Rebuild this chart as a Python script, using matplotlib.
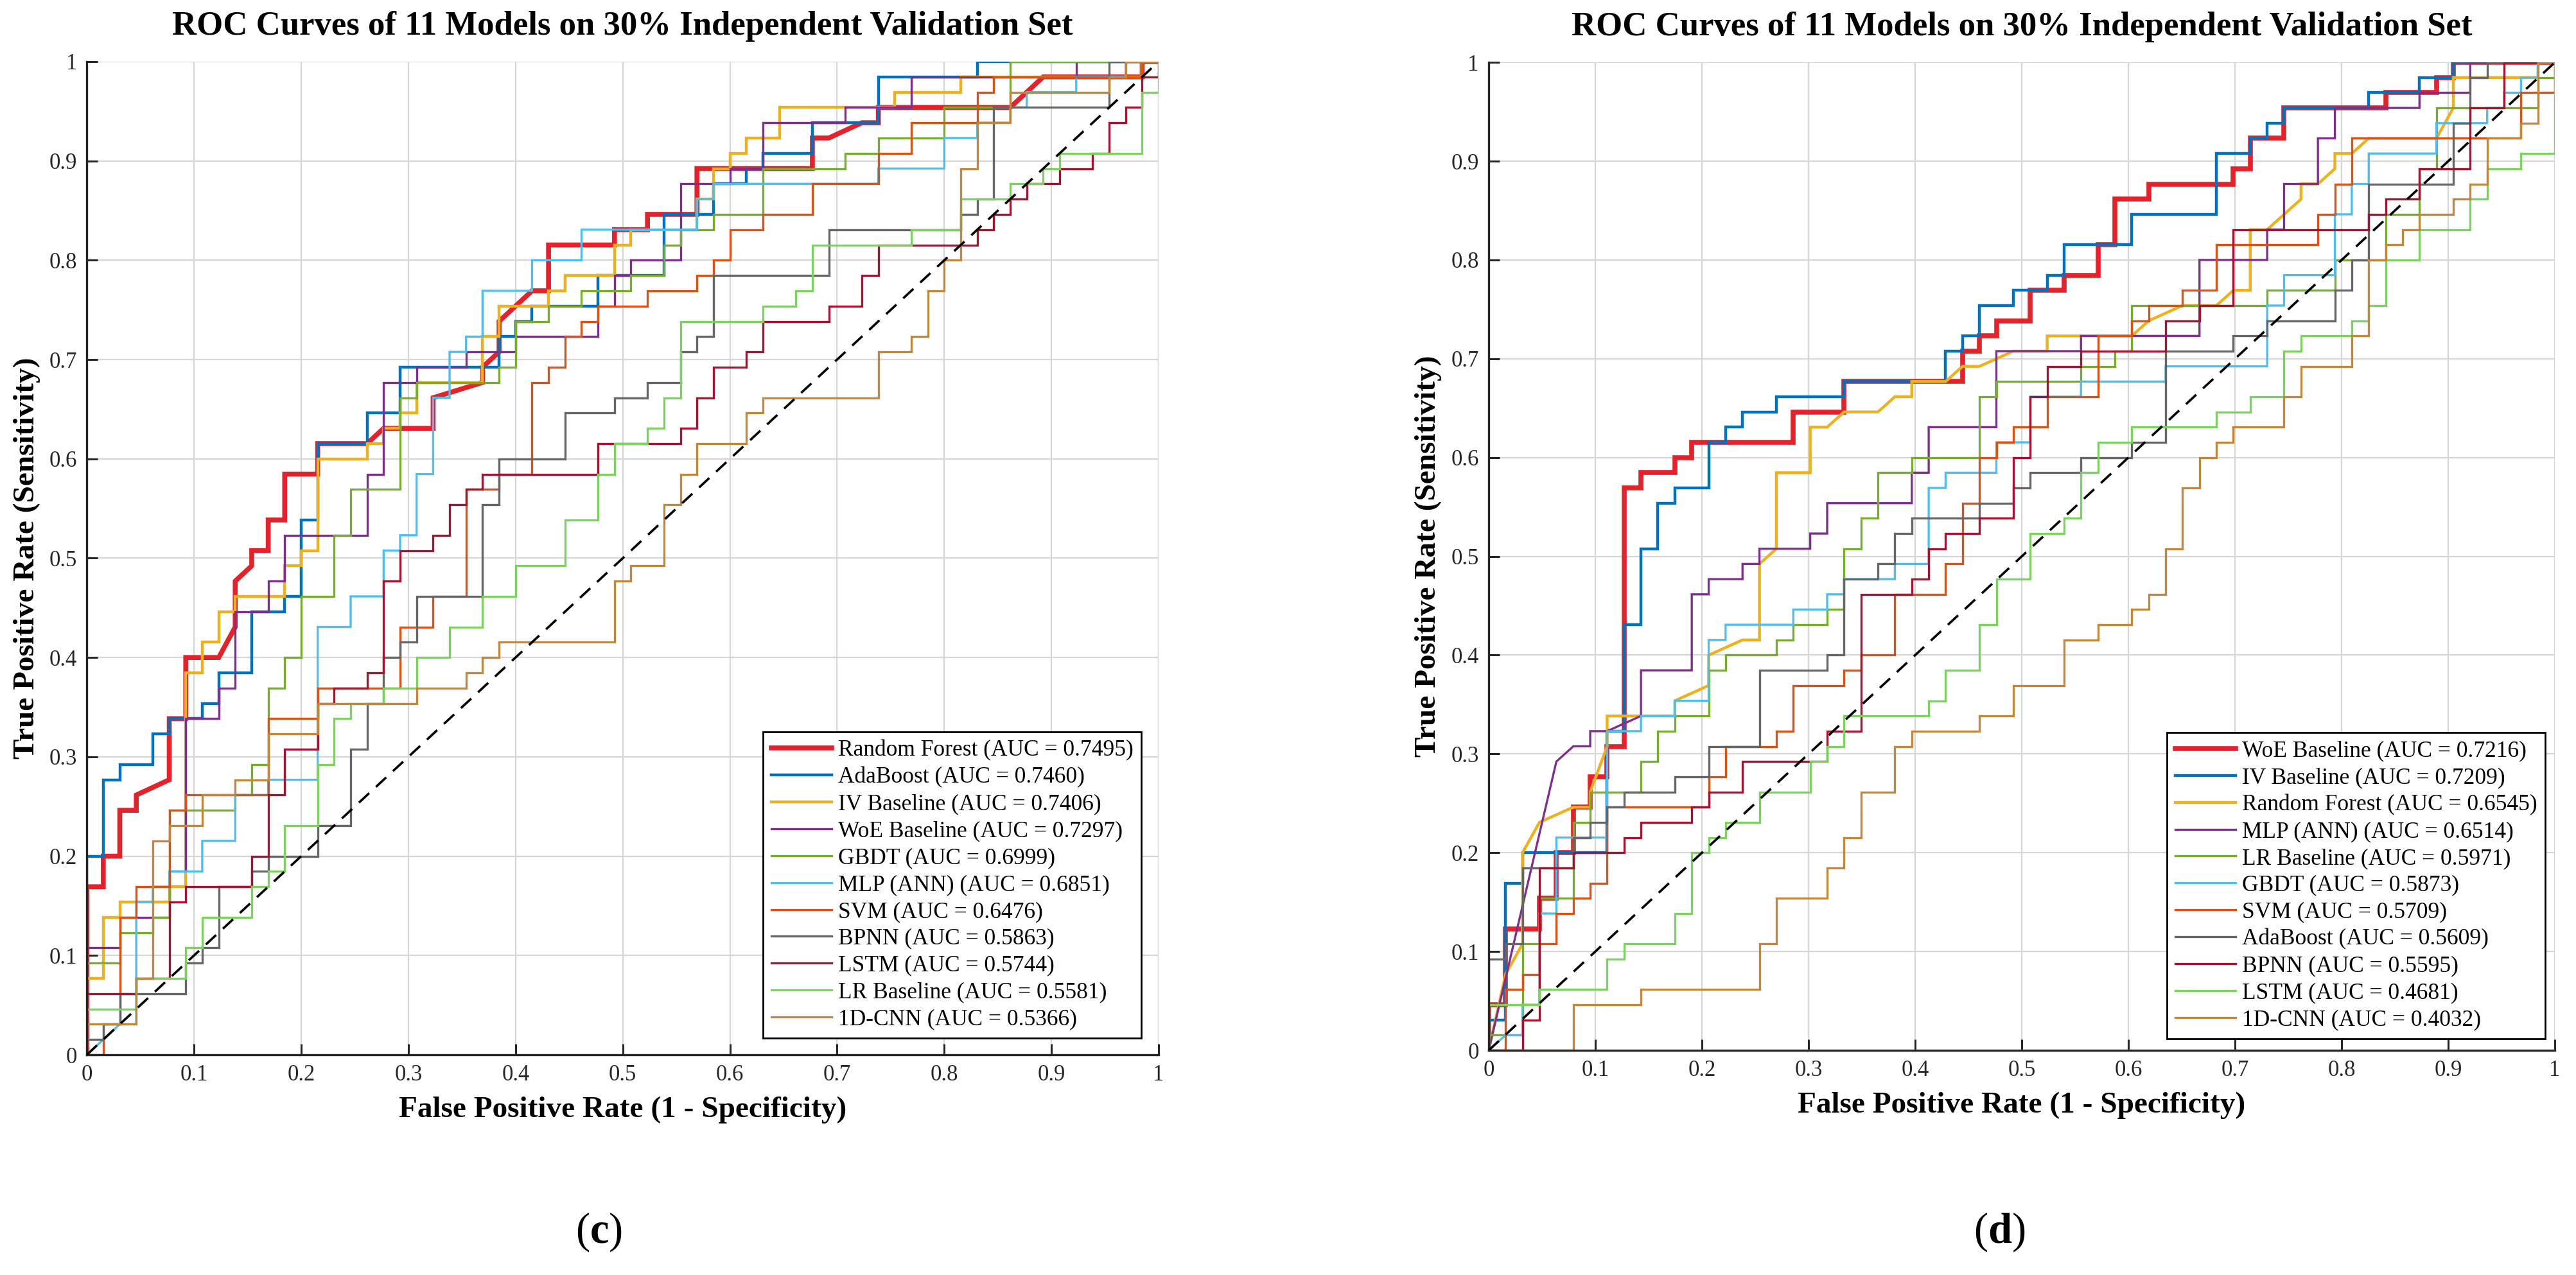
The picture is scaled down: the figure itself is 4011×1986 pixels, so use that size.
import matplotlib
matplotlib.use('Agg')
import matplotlib.pyplot as plt
from matplotlib.font_manager import FontProperties

# counts of positives / negatives behind each ROC (fpr = fp / n_neg, tpr = tp / n_pos)
N_POS = 65
N_NEG_C = 65
N_NEG_D = 63

# ---- panel (c): vertices as (false positives, true positives) ----
C_RF = [(0,0),(0,11),(1,11),(1,13),(2,13),(2,16),(3,16),(3,17),(5,18),(5,22),(6,22),(6,26),(8,26),(9,28),(9,31),(10,32),(10,33),(11,33),(11,35),(12,35),(12,38),(14,38),(14,40),(17,40),(18,41),(21,41),(21,43),(24,44),(24,45),(25,46),(25,48),(27,50),(28,50),(28,53),(32,53),(32,54),(34,54),(34,55),(37,55),(37,58),(44,58),(44,60),(45,60),(47,61),(48,61),(48,62),(56,62),(58,64),(64,64),(64,65),(65,65)]
C_ADA = [(0,0),(0,13),(1,13),(1,18),(2,18),(2,19),(4,19),(4,21),(5,21),(5,22),(7,22),(7,23),(8,23),(8,25),(10,25),(10,29),(12,29),(12,30),(13,30),(13,35),(14,35),(14,40),(17,40),(17,42),(19,42),(19,45),(25,45),(25,47),(26,47),(26,48),(27,48),(27,49),(31,49),(31,51),(35,51),(35,55),(38,55),(38,57),(40,57),(40,58),(41,58),(41,59),(44,59),(44,61),(48,61),(48,64),(54,64),(54,65),(65,65)]
C_IV = [(0,0),(0,5),(1,5),(1,9),(2,9),(2,10),(5,10),(5,11),(6,11),(6,25),(7,25),(7,27),(8,27),(8,29),(9,29),(9,30),(12,30),(12,32),(13,32),(13,33),(14,33),(14,39),(17,39),(17,40),(18,40),(18,41),(19,41),(19,42),(20,42),(20,44),(24,44),(24,47),(25,47),(25,49),(28,49),(28,50),(29,50),(29,51),(32,51),(32,53),(33,53),(33,54),(37,54),(37,56),(38,56),(38,58),(39,58),(39,59),(40,59),(40,60),(42,60),(42,62),(49,62),(49,63),(53,63),(53,64),(64,64),(64,65),(65,65)]
C_WOE = [(0,0),(0,7),(2,7),(2,9),(5,9),(5,12),(6,12),(6,22),(8,22),(8,24),(9,24),(9,29),(11,29),(11,31),(12,31),(12,34),(17,34),(17,38),(18,38),(18,44),(20,44),(20,45),(23,45),(23,46),(26,46),(26,47),(31,47),(31,49),(32,49),(32,51),(33,51),(33,52),(36,52),(36,57),(39,57),(39,58),(41,58),(41,61),(46,61),(46,62),(50,62),(50,64),(60,64),(60,65),(65,65)]
C_GBDT = [(0,0),(0,6),(2,6),(2,8),(4,8),(4,9),(5,9),(5,16),(9,16),(9,17),(10,17),(10,19),(11,19),(11,24),(12,24),(12,26),(13,26),(13,30),(15,30),(15,34),(16,34),(16,37),(19,37),(19,43),(20,43),(20,44),(25,44),(25,45),(26,45),(26,48),(28,48),(28,49),(30,49),(30,50),(33,50),(33,51),(35,51),(35,53),(36,53),(36,54),(38,54),(38,55),(41,55),(41,58),(46,58),(46,59),(48,59),(48,60),(52,60),(52,62),(56,62),(56,65),(65,65)]
C_MLP = [(0,0),(2,2),(3,2),(3,10),(4,10),(4,11),(5,11),(5,12),(7,12),(7,14),(9,14),(9,17),(11,17),(11,18),(14,18),(14,28),(16,28),(16,30),(18,30),(18,33),(19,33),(19,34),(20,34),(20,38),(21,38),(21,43),(22,43),(22,46),(23,46),(23,47),(24,47),(24,50),(27,50),(27,52),(30,52),(30,54),(37,54),(37,56),(38,56),(38,57),(48,57),(48,58),(52,58),(52,60),(54,60),(54,61),(56,61),(56,62),(57,62),(57,63),(60,63),(60,64),(63,64),(63,65),(65,65)]
C_SVM = [(0,0),(1,0),(1,2),(2,2),(2,9),(3,9),(3,11),(5,11),(5,16),(6,16),(6,17),(11,17),(11,22),(14,22),(14,24),(19,24),(19,28),(21,28),(21,30),(23,30),(23,37),(25,37),(25,38),(27,38),(27,44),(28,44),(28,45),(29,45),(29,47),(30,47),(30,48),(31,48),(31,49),(34,49),(34,50),(37,50),(37,51),(38,51),(38,52),(39,52),(39,54),(41,54),(41,55),(44,55),(44,57),(48,57),(48,59),(50,59),(50,61),(54,61),(54,63),(55,63),(55,64),(64,64),(64,65),(65,65)]
C_BPNN = [(0,0),(0,1),(1,1),(1,2),(2,2),(2,4),(6,4),(6,6),(7,6),(7,7),(8,7),(8,11),(10,11),(10,12),(11,12),(11,13),(14,13),(14,15),(16,15),(16,20),(17,20),(17,23),(18,23),(18,26),(19,26),(19,27),(20,27),(20,30),(24,30),(24,36),(25,36),(25,39),(29,39),(29,42),(32,42),(32,43),(34,43),(34,44),(36,44),(36,46),(37,46),(37,47),(38,47),(38,51),(45,51),(45,54),(53,54),(53,55),(54,55),(54,56),(55,56),(55,62),(62,62),(62,65),(65,65)]
C_LSTM = [(0,0),(0,4),(3,4),(3,5),(5,5),(5,10),(6,10),(6,11),(10,11),(10,13),(11,13),(11,17),(12,17),(12,20),(14,20),(14,23),(15,23),(15,24),(17,24),(17,25),(18,25),(18,31),(19,31),(19,33),(21,33),(21,34),(22,34),(22,36),(23,36),(23,37),(24,37),(24,38),(31,38),(31,40),(36,40),(36,41),(37,41),(37,43),(38,43),(38,45),(40,45),(40,46),(41,46),(41,48),(45,48),(45,49),(47,49),(47,51),(48,51),(48,53),(54,53),(54,54),(55,54),(55,55),(56,55),(56,56),(57,56),(57,57),(59,57),(59,58),(61,58),(61,59),(62,59),(62,61),(63,61),(63,62),(64,62),(64,64),(65,64),(65,65)]
C_LR = [(0,0),(0,3),(3,3),(3,5),(6,5),(6,7),(7,7),(7,9),(10,9),(10,11),(11,11),(11,12),(12,12),(12,15),(14,15),(14,19),(15,19),(15,22),(16,22),(16,23),(18,23),(18,24),(20,24),(20,26),(22,26),(22,28),(24,28),(24,30),(26,30),(26,32),(29,32),(29,35),(31,35),(31,38),(32,38),(32,40),(34,40),(34,41),(35,41),(35,43),(36,43),(36,48),(41,48),(41,49),(43,49),(43,50),(44,50),(44,53),(50,53),(50,54),(53,54),(53,56),(56,56),(56,57),(58,57),(58,58),(59,58),(59,59),(64,59),(64,63),(65,63),(65,65)]
C_CNN = [(0,0),(0,2),(3,2),(3,5),(4,5),(4,14),(5,14),(5,15),(7,15),(7,17),(9,17),(9,18),(11,18),(11,21),(14,21),(14,23),(20,23),(20,24),(23,24),(23,25),(24,25),(24,26),(25,26),(25,27),(32,27),(32,31),(33,31),(33,32),(35,32),(35,36),(36,36),(36,38),(37,38),(37,40),(40,40),(40,42),(41,42),(41,43),(48,43),(48,46),(50,46),(50,47),(51,47),(51,50),(52,50),(52,52),(53,52),(53,58),(54,58),(54,61),(56,61),(56,63),(62,63),(62,64),(63,64),(63,65),(65,65)]

C_CURVES = [C_RF, C_ADA, C_IV, C_WOE, C_GBDT, C_MLP, C_SVM, C_BPNN, C_LSTM, C_LR, C_CNN]
C_NAMES = ['Random Forest', 'AdaBoost', 'IV Baseline', 'WoE Baseline', 'GBDT', 'MLP (ANN)',
           'SVM', 'BPNN', 'LSTM', 'LR Baseline', '1D-CNN']
C_AUC = ['0.7495', '0.7460', '0.7406', '0.7297', '0.6999', '0.6851',
         '0.6476', '0.5863', '0.5744', '0.5581', '0.5366']

# ---- panel (d) ----
D_WOE = [(0,0),(0,3),(1,3),(1,8),(3,8),(3,10),(4,10),(4,13),(5,13),(5,16),(6,16),(6,18),(7,18),(7,20),(8,20),(8,37),(9,37),(9,38),(11,38),(11,39),(12,39),(12,40),(18,40),(18,42),(21,42),(21,44),(28,44),(28,46),(29,46),(29,47),(30,47),(30,48),(32,48),(32,50),(34,50),(34,51),(36,51),(36,53),(37,53),(37,56),(39,56),(39,57),(44,57),(44,58),(45,58),(45,60),(47,60),(47,62),(53,62),(53,63),(56,63),(56,64),(57,64),(57,65),(63,65)]
D_IV = [(0,0),(0,2),(1,2),(1,11),(2,11),(2,13),(7,13),(7,21),(8,21),(8,28),(9,28),(9,33),(10,33),(10,36),(11,36),(11,37),(13,37),(13,40),(14,40),(14,41),(15,41),(15,42),(17,42),(17,43),(21,43),(21,44),(27,44),(27,46),(28,46),(28,47),(29,47),(29,49),(31,49),(31,50),(33,50),(33,51),(34,51),(34,53),(38,53),(38,55),(43,55),(43,59),(45,59),(45,60),(46,60),(46,61),(47,61),(47,62),(52,62),(52,63),(55,63),(55,64),(57,64),(57,65),(63,65)]
D_RF = [(0,0),(1,5),(2,7),(2,13),(3,15),(5,16),(6,16),(6,17),(7,20),(7,22),(11,22),(11,23),(13,24),(13,26),(15,27),(16,27),(16,32),(17,33),(17,38),(19,38),(19,41),(20,41),(21,42),(23,42),(24,43),(25,43),(25,44),(27,44),(28,45),(29,45),(31,46),(33,46),(33,47),(38,47),(39,48),(41,49),(43,49),(44,50),(45,50),(45,54),(46,54),(47,55),(48,56),(48,57),(49,57),(50,58),(50,59),(51,59),(52,60),(56,60),(57,62),(57,64),(62,64),(62,65),(63,65)]
D_MLP = [(0,0),(4,19),(5,20),(6,20),(6,21),(7,21),(9,22),(9,25),(12,25),(12,30),(13,30),(13,31),(15,31),(15,32),(16,32),(16,33),(19,33),(19,34),(20,34),(20,36),(25,36),(25,38),(26,38),(26,41),(30,41),(30,46),(35,46),(35,47),(42,47),(42,52),(46,52),(46,54),(47,54),(47,57),(49,57),(49,60),(50,60),(50,62),(55,62),(55,63),(58,63),(58,65),(63,65)]
D_LR = [(0,0),(0,1),(2,1),(2,7),(3,7),(3,10),(5,10),(5,15),(6,15),(6,17),(9,17),(9,19),(10,19),(10,21),(11,21),(11,22),(13,22),(13,25),(14,25),(14,26),(17,26),(17,27),(18,27),(18,28),(20,28),(20,29),(21,29),(21,33),(22,33),(22,35),(23,35),(23,38),(25,38),(25,39),(29,39),(29,43),(30,43),(30,44),(35,44),(35,45),(37,45),(37,46),(38,46),(38,49),(46,49),(46,50),(50,50),(50,52),(53,52),(53,55),(55,55),(55,58),(56,58),(56,62),(62,62),(62,64),(63,64),(63,65)]
D_GBDT = [(0,0),(1,1),(2,1),(2,3),(3,3),(3,9),(4,9),(4,14),(7,14),(7,21),(9,21),(9,22),(11,22),(11,23),(13,23),(13,27),(14,27),(14,28),(18,28),(18,29),(20,29),(20,30),(21,30),(21,31),(24,31),(24,32),(26,32),(26,37),(27,37),(27,38),(30,38),(30,40),(32,40),(32,43),(35,43),(35,44),(40,44),(40,45),(46,45),(46,49),(47,49),(47,51),(50,51),(50,55),(51,55),(51,57),(52,57),(52,59),(56,59),(56,61),(59,61),(59,62),(60,62),(60,63),(61,63),(61,64),(62,64),(62,65),(63,65)]
D_SVM = [(0,0),(1,0),(1,4),(2,4),(2,5),(3,5),(3,7),(4,7),(4,9),(5,9),(5,10),(6,10),(6,11),(7,11),(7,16),(13,16),(13,18),(14,18),(14,20),(17,20),(17,21),(18,21),(18,24),(21,24),(21,25),(22,25),(22,26),(24,26),(24,30),(27,30),(27,32),(28,32),(28,36),(29,36),(29,39),(30,39),(30,40),(31,40),(31,41),(33,41),(33,43),(36,43),(36,47),(38,47),(38,48),(39,48),(39,49),(41,49),(41,50),(43,50),(43,53),(49,53),(49,55),(50,55),(50,57),(51,57),(51,60),(61,60),(61,63),(63,63),(63,65)]
D_ADA = [(0,0),(0,6),(1,6),(1,7),(2,7),(2,12),(5,12),(5,14),(6,14),(6,15),(7,15),(7,16),(8,16),(8,17),(11,17),(11,18),(13,18),(13,20),(16,20),(16,25),(20,25),(20,26),(21,26),(21,31),(23,31),(23,32),(24,32),(24,34),(25,34),(25,35),(29,35),(29,36),(31,36),(31,37),(32,37),(32,38),(35,38),(35,39),(38,39),(38,40),(40,40),(40,46),(44,46),(44,47),(46,47),(46,48),(50,48),(50,50),(51,50),(51,52),(52,52),(52,57),(57,57),(57,61),(58,61),(58,64),(59,64),(59,65),(63,65)]
D_BPNN = [(0,0),(2,0),(2,2),(3,2),(3,12),(5,12),(5,13),(8,13),(8,14),(9,14),(9,15),(12,15),(12,16),(13,16),(13,17),(15,17),(15,19),(20,19),(20,21),(22,21),(22,30),(25,30),(25,31),(26,31),(26,33),(27,33),(27,34),(29,34),(29,35),(31,35),(31,39),(32,39),(32,43),(33,43),(33,45),(35,45),(35,46),(40,46),(40,48),(42,48),(42,49),(44,49),(44,54),(52,54),(52,55),(53,55),(53,56),(55,56),(55,58),(58,58),(58,62),(60,62),(60,65),(63,65)]
D_LSTM = [(0,0),(0,3),(3,3),(3,4),(7,4),(7,6),(8,6),(8,7),(11,7),(11,9),(12,9),(12,13),(13,13),(13,14),(14,14),(14,15),(16,15),(16,17),(19,17),(19,19),(20,19),(20,20),(21,20),(21,22),(26,22),(26,23),(27,23),(27,25),(29,25),(29,28),(30,28),(30,31),(32,31),(32,34),(34,34),(34,35),(35,35),(35,38),(36,38),(36,40),(38,40),(38,41),(43,41),(43,42),(45,42),(45,43),(47,43),(47,46),(48,46),(48,47),(51,47),(51,48),(52,48),(52,49),(53,49),(53,52),(55,52),(55,54),(58,54),(58,56),(59,56),(59,58),(61,58),(61,59),(63,59),(63,65)]
D_CNN = [(0,0),(5,0),(5,3),(9,3),(9,4),(16,4),(16,7),(17,7),(17,10),(20,10),(20,12),(21,12),(21,14),(22,14),(22,17),(24,17),(24,20),(25,20),(25,21),(29,21),(29,22),(31,22),(31,24),(34,24),(34,27),(36,27),(36,28),(38,28),(38,29),(39,29),(39,30),(40,30),(40,33),(41,33),(41,37),(42,37),(42,39),(43,39),(43,40),(44,40),(44,41),(47,41),(47,43),(48,43),(48,45),(51,45),(51,47),(52,47),(52,52),(53,52),(53,53),(54,53),(54,54),(55,54),(55,55),(57,55),(57,56),(58,56),(58,57),(59,57),(59,60),(61,60),(61,61),(62,61),(62,65),(63,65)]

D_CURVES = [D_WOE, D_IV, D_RF, D_MLP, D_LR, D_GBDT, D_SVM, D_ADA, D_BPNN, D_LSTM, D_CNN]
D_NAMES = ['WoE Baseline', 'IV Baseline', 'Random Forest', 'MLP (ANN)', 'LR Baseline', 'GBDT',
           'SVM', 'AdaBoost', 'BPNN', 'LSTM', '1D-CNN']
D_AUC = ['0.7216', '0.7209', '0.6545', '0.6514', '0.5971', '0.5873',
         '0.5709', '0.5609', '0.5595', '0.4681', '0.4032']

# colour / width by rank in the legend
COLORS = ['#E3232C', '#0072BD', '#EDB120', '#7E2F8E', '#77AC30', '#4DBEEE',
          '#D95319', '#666666', '#A2142F', '#7CD160', '#C0873D']
WIDTHS = [5.5, 3.2, 3.2, 2.4, 2.4, 2.4, 2.4, 2.4, 2.4, 2.4, 2.4]

TICKS = [0, 0.1, 0.2, 0.3, 0.4, 0.5, 0.6, 0.7, 0.8, 0.9, 1]
TICK_LABELS = ['0', '0.1', '0.2', '0.3', '0.4', '0.5', '0.6', '0.7', '0.8', '0.9', '1']

TITLE = 'ROC Curves of 11 Models on 30% Independent Validation Set'
SERIF = 'Liberation Serif'
AXIS_COLOR = '#262626'

plt.rcParams['mathtext.fontset'] = 'custom'
plt.rcParams['mathtext.rm'] = SERIF
plt.rcParams['mathtext.bf'] = SERIF + ':bold'

fig = plt.figure(figsize=(40.11, 19.86), dpi=100)
ax_c = fig.add_axes([0.0337, 0.1727, 0.4161, 0.7790])
ax_d = fig.add_axes([0.5779, 0.1762, 0.4139, 0.7749])


def draw_panel(ax, curves, names, aucs, n_neg, anchor):
    for i, pts in enumerate(curves):
        xs = [fp / n_neg for fp, tp in pts]
        ys = [tp / N_POS for fp, tp in pts]
        ax.plot(xs, ys, color=COLORS[i], lw=WIDTHS[i], solid_joinstyle='miter',
                label=f'{names[i]} (AUC = {aucs[i]})')
    ax.plot([0, 1], [0, 1], color='black', lw=2.6, ls=(0, (6, 4)), zorder=5)

    ax.set_xlim(0, 1)
    ax.set_ylim(0, 1)
    ax.set_xticks(TICKS)
    ax.set_yticks(TICKS)
    ax.set_xticklabels(TICK_LABELS, family=SERIF)
    ax.set_yticklabels(TICK_LABELS, family=SERIF)
    ax.tick_params(direction='in', length=12, width=2.2, colors=AXIS_COLOR,
                   labelsize=25, pad=11)
    ax.grid(True, color='#d6d6d6', lw=1.6)
    ax.set_axisbelow(True)
    for side in ['top', 'right']:
        ax.spines[side].set_visible(False)
    for side in ['left', 'bottom']:
        ax.spines[side].set_color(AXIS_COLOR)
        ax.spines[side].set_linewidth(2.4)

    ax.set_title(TITLE, family=SERIF, fontsize=38, fontweight='bold', pad=30)
    ax.set_xlabel('False Positive Rate (1 - Specificity)', family=SERIF,
                  fontsize=34, fontweight='bold', labelpad=12)
    ax.set_ylabel('True Positive Rate (Sensitivity)', family=SERIF,
                  fontsize=34, fontweight='bold', labelpad=10)

    leg = ax.legend(loc='lower right', bbox_to_anchor=anchor, borderaxespad=0,
                    prop=FontProperties(family=SERIF, size=25.5), fancybox=False,
                    edgecolor='black', framealpha=1, handlelength=2.65,
                    handletextpad=0.3, labelspacing=0.25, borderpad=0.35)
    leg.get_frame().set_linewidth(2.0)


draw_panel(ax_c, C_CURVES, C_NAMES, C_AUC, N_NEG_C, (0.984, 0.017))
draw_panel(ax_d, D_CURVES, D_NAMES, D_AUC, N_NEG_D, (0.991, 0.012))

fig.text(933 / 4011, 67 / 1986, r'($\mathbf{c}$)', family=SERIF, fontsize=48,
         ha='center', va='center')
fig.text(3113 / 4011, 67 / 1986, r'($\mathbf{d}$)', family=SERIF, fontsize=48,
         ha='center', va='center')

fig.savefig('out.png', dpi=100, facecolor='white')
